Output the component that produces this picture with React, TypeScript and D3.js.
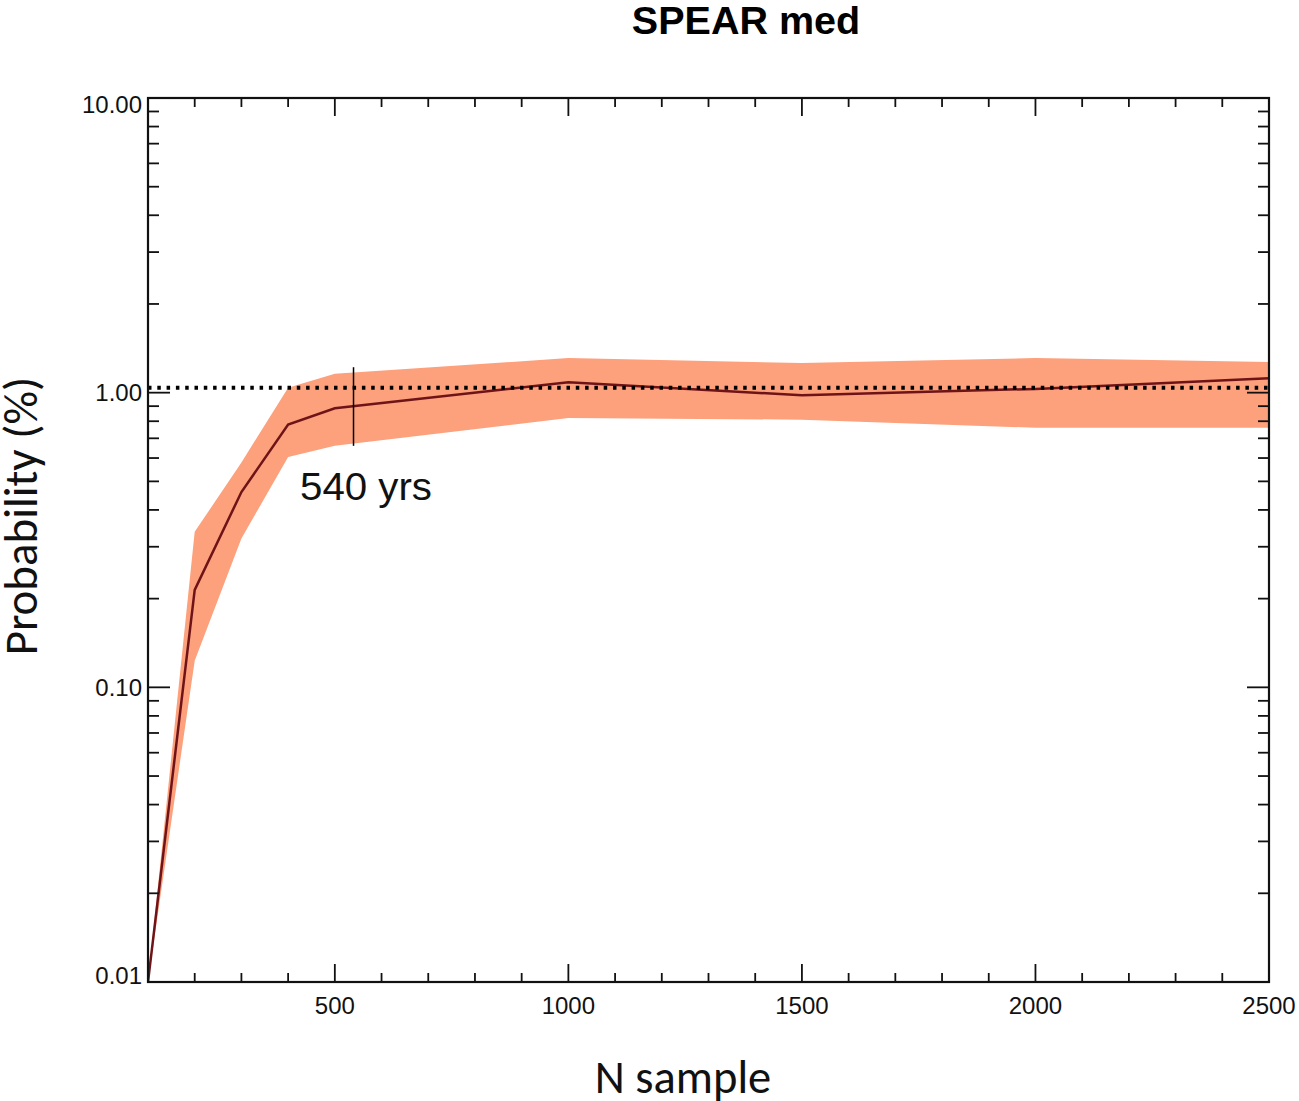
import React from "react";
import * as d3 from "d3";

const nSample = [100, 200, 300, 400, 500, 1000, 1500, 2000, 2500];
const probMedian = [0.01, 0.214, 0.46, 0.78, 0.885, 1.085, 0.98, 1.03, 1.12];
const probUpper = [0.01, 0.337, 0.58, 1.04, 1.16, 1.31, 1.26, 1.31, 1.27];
const probLower = [0.01, 0.123, 0.32, 0.605, 0.66, 0.82, 0.81, 0.76, 0.76];
const referenceProb = 1.04;
const markerYears = 540;
const markerLow = 0.66;
const markerHigh = 1.22;
const xTickLabels = [500, 1000, 1500, 2000, 2500];
const yTickLabels = [0.01, 0.1, 1, 10];

const W = 1299;
const H = 1101;
const m = { left: 148, right: 1269, top: 98, bottom: 982 };

export default function App() {
  const x = d3.scaleLinear().domain([100, 2500]).range([m.left, m.right]);
  const y = d3.scaleLog().domain([0.01, 10]).range([m.bottom, m.top]);

  const idx = nSample.map((_, i) => i);
  const area = d3
    .area<number>()
    .x((i) => x(nSample[i]))
    .y0((i) => y(probLower[i]))
    .y1((i) => y(probUpper[i]));
  const line = d3
    .line<number>()
    .x((i) => x(nSample[i]))
    .y((i) => y(probMedian[i]));

  const xMinor = d3.range(200, 2500, 100).filter((v) => v % 500 !== 0);
  const yMinor: number[] = [];
  [0.01, 0.1, 1].forEach((d) => {
    for (let k = 2; k <= 9; k++) yMinor.push(d * k);
  });

  const fmtY = (v: number) => v.toFixed(2);
  const font = "'Liberation Sans', Arial, Helvetica, sans-serif";
  const cal = "Carlito, 'Open Sans', 'Liberation Sans', sans-serif";
  const ax = "#111";

  return (
    <svg width={W} height={H} style={{ position: "absolute", left: 0, top: 0, background: "#fff" }}>
      <rect x={0} y={0} width={W} height={H} fill="#fff" />
      <text x={746} y={34} textAnchor="middle" fontFamily={font} fontWeight="bold" fontSize={39.5} fill="#000">
        SPEAR med
      </text>

      <defs>
        <clipPath id="plotclip">
          <rect x={m.left} y={m.top} width={m.right - m.left} height={m.bottom - m.top} />
        </clipPath>
      </defs>

      <g clipPath="url(#plotclip)">
        <path d={area(idx) ?? ""} fill="#FDA07C" />
        <path d={line(idx) ?? ""} fill="none" stroke="#6E1418" strokeWidth={2.5} />
        <line
          x1={m.left}
          x2={m.right}
          y1={y(referenceProb)}
          y2={y(referenceProb)}
          stroke="#000"
          strokeWidth={4}
          strokeDasharray="3.5 5.8"
        />
        <line x1={x(markerYears)} x2={x(markerYears)} y1={y(markerHigh)} y2={y(markerLow)} stroke="#000" strokeWidth={1.5} />
      </g>
      <text
        x={300}
        y={500}
        fontFamily={font}
        fontSize={39}
        fill="#111"
        textLength={132}
        lengthAdjust="spacingAndGlyphs"
      >
        {markerYears} yrs
      </text>

      {/* frame */}
      <rect x={m.left} y={m.top} width={m.right - m.left} height={m.bottom - m.top} fill="none" stroke={ax} strokeWidth={2.2} />

      {/* x ticks */}
      {xTickLabels.map((v) => (
        <g key={"xt" + v}>
          <line x1={x(v)} x2={x(v)} y1={m.bottom} y2={m.bottom - 18} stroke={ax} strokeWidth={1.8} />
          <line x1={x(v)} x2={x(v)} y1={m.top} y2={m.top + 18} stroke={ax} strokeWidth={1.8} />
          <text x={x(v)} y={1014} textAnchor="middle" fontFamily={font} fontSize={24} fill="#111">
            {v}
          </text>
        </g>
      ))}
      {xMinor.map((v) => (
        <g key={"xm" + v}>
          <line x1={x(v)} x2={x(v)} y1={m.bottom} y2={m.bottom - 9} stroke={ax} strokeWidth={1.8} />
          <line x1={x(v)} x2={x(v)} y1={m.top} y2={m.top + 9} stroke={ax} strokeWidth={1.8} />
        </g>
      ))}

      {/* y ticks */}
      {yTickLabels.map((v, i) => (
        <g key={"yt" + v}>
          <line x1={m.left} x2={m.left + 22} y1={y(v)} y2={y(v)} stroke={ax} strokeWidth={1.8} />
          <line x1={m.right} x2={m.right - 22} y1={y(v)} y2={y(v)} stroke={ax} strokeWidth={1.8} />
          <text
            x={142}
            y={y(v) + (i === 0 ? -7 : i === yTickLabels.length - 1 ? 6 : 0)}
            textAnchor="end"
            dominantBaseline="central"
            fontFamily={font}
            fontSize={24}
            fill="#111"
          >
            {fmtY(v)}
          </text>
        </g>
      ))}
      {yMinor.map((v) => (
        <g key={"ym" + v}>
          <line x1={m.left} x2={m.left + 11} y1={y(v)} y2={y(v)} stroke={ax} strokeWidth={1.8} />
          <line x1={m.right} x2={m.right - 11} y1={y(v)} y2={y(v)} stroke={ax} strokeWidth={1.8} />
        </g>
      ))}

      <text
        transform={`translate(37, 516) rotate(-90)`}
        textAnchor="middle"
        fontFamily={cal}
        fontSize={47}
        fill="#111"
      >
        Probability (%)
      </text>
      <text x={683} y={1093} textAnchor="middle" fontFamily={cal} fontSize={46.5} fill="#111">
        N sample
      </text>
    </svg>
  );
}
